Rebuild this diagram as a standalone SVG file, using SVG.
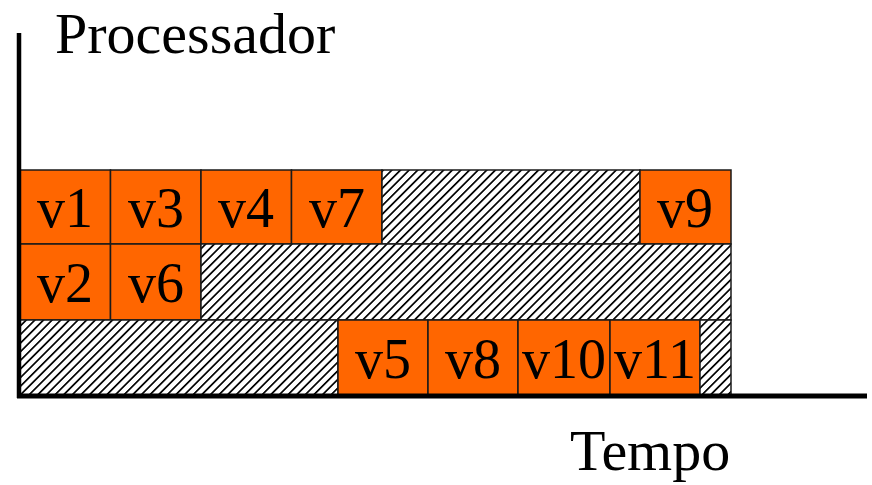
<svg xmlns="http://www.w3.org/2000/svg" width="872" height="485" viewBox="0 0 872 485">
<style>
.t{font-family:"Liberation Serif","Times New Roman",serif;font-size:56px;fill:#000}
.big{font-size:58px}
.v{text-anchor:middle}
.task{fill:#FF6600;stroke:#1a1a1a;stroke-width:1.5}
.idle{fill:url(#hatch);stroke:#1a1a1a;stroke-width:1.5}
</style>
<defs>
<pattern id="hatch" patternUnits="userSpaceOnUse" width="6.1" height="6.1" patternTransform="rotate(45)">
<rect width="6.1" height="6.1" fill="#fff"/>
<line x1="0" y1="0" x2="0" y2="6.1" stroke="#000" stroke-width="3.4"/>
</pattern>
</defs>
<g id="labels">
<text class="t big" x="55" y="52.5">Processador</text>
<text class="t big" x="570" y="470">Tempo</text>
</g>
<g id="row1">
<g id="v1"><rect class="task" x="20" y="170" width="90.5" height="74"/><text class="t v" x="65" y="227">v1</text></g>
<g id="v3"><rect class="task" x="110.5" y="170" width="90.5" height="74"/><text class="t v" x="156" y="227">v3</text></g>
<g id="v4"><rect class="task" x="201" y="170" width="90.5" height="74"/><text class="t v" x="246" y="227">v4</text></g>
<g id="v7"><rect class="task" x="291.5" y="170" width="90.5" height="74"/><text class="t v" x="337" y="227">v7</text></g>
<g id="idle1"><rect class="idle" x="382" y="170" width="258" height="74"/></g>
<g id="v9"><rect class="task" x="640" y="170" width="91" height="74"/><text class="t v" x="685" y="227">v9</text></g>
</g>
<g id="row2">
<g id="v2"><rect class="task" x="20" y="244" width="90.5" height="76"/><text class="t v" x="65" y="302">v2</text></g>
<g id="v6"><rect class="task" x="110.5" y="244" width="90.5" height="76"/><text class="t v" x="156" y="302">v6</text></g>
<g id="idle2"><rect class="idle" x="201" y="244" width="530" height="76"/></g>
</g>
<g id="row3">
<g id="idle3"><rect class="idle" x="20" y="320" width="318" height="76"/></g>
<g id="v5"><rect class="task" x="338" y="320" width="90" height="76"/><text class="t v" x="383" y="378">v5</text></g>
<g id="v8"><rect class="task" x="428" y="320" width="90" height="76"/><text class="t v" x="473" y="378">v8</text></g>
<g id="v10"><rect class="task" x="518" y="320" width="92" height="76"/><text class="t v" x="564" y="378">v10</text></g>
<g id="v11"><rect class="task" x="610" y="320" width="90" height="76"/><text class="t v" x="655" y="378">v11</text></g>
<g id="idle4"><rect class="idle" x="700" y="320" width="31" height="76"/></g>
</g>
<g id="axes" stroke="#000" fill="none">
<line x1="19" y1="33" x2="19" y2="398" stroke-width="4.5"/>
<line x1="17" y1="396" x2="867" y2="396" stroke-width="5"/>
</g>
</svg>
